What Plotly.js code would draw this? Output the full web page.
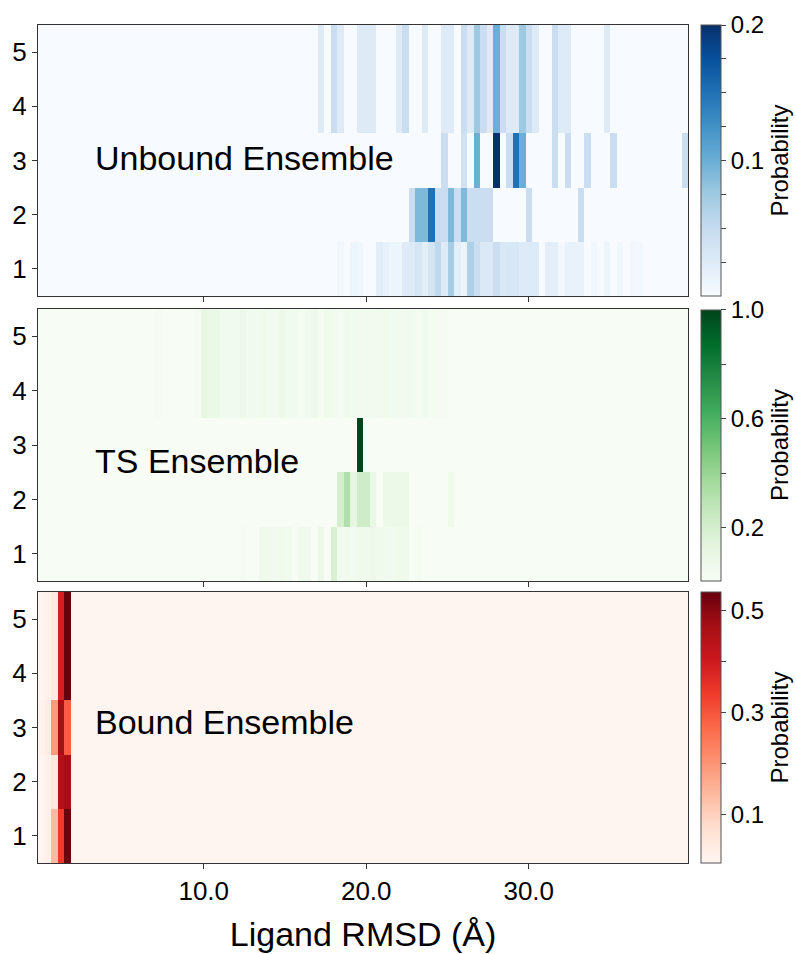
<!DOCTYPE html>
<html><head><meta charset="utf-8">
<script src="https://cdn.plot.ly/plotly-3.0.1.min.js"></script>
<style>body{margin:0;background:#fff}#chart{width:796px;height:954px}</style>
</head><body><div id="chart"></div>
<script>
// ---------- data ----------
const rowLabels = [1, 2, 3, 4, 5];
const binStart = 0;      // centre of first ligand-RMSD bin (Å)
const binWidth = 0.4;    // Å
const nBins = 100;
const xTickVals = [10, 20, 30];
const xTickText = ['10.0', '20.0', '30.0'];
const yTickVals = [1, 2, 3, 4, 5];

// Unbound ensemble (bin index -> probability)
const unbound1Bins = [46,48,49,52,53,54,55,56,57,58,59,60,61,62,63,64,65,66,67,68,69,70,71,72,73,74,75,76,78,79,80,81,82,83,85,87,89,91,92];
const unbound1Vals = [0.006,0.01,0.008,0.022,0.015,0.01,0.01,0.025,0.025,0.035,0.02,0.035,0.055,0.025,0.07,0.018,0.01,0.065,0.045,0.028,0.028,0.045,0.03,0.032,0.032,0.026,0.026,0.026,0.02,0.018,0.005,0.014,0.014,0.014,0.007,0.01,0.008,0.006,0.005];
const unbound2Bins = [57,58,59,60,61,62,63,64,65,66,67,68,69,75,83];
const unbound2Vals = [0.045,0.09,0.09,0.15,0.045,0.045,0.09,0.045,0.09,0.045,0.045,0.045,0.045,0.045,0.045];
const unbound3Bins = [62,65,67,70,72,73,74,79,81,84,88,99];
const unbound3Vals = [0.045,0.04,0.1,0.2,0.045,0.15,0.1,0.045,0.045,0.045,0.045,0.045];
const unbound4Bins = [43,45,46,49,50,51,55,56,59,62,63,65,66,67,68,69,70,71,72,73,74,75,76,79,80,81,87];
const unbound4Vals = [0.025,0.045,0.025,0.025,0.025,0.025,0.025,0.045,0.025,0.025,0.025,0.045,0.025,0.075,0.045,0.025,0.1,0.045,0.025,0.025,0.075,0.045,0.025,0.045,0.025,0.025,0.025];
const unbound5Bins = [43,45,46,49,50,51,55,56,59,62,63,65,66,67,68,69,70,71,72,73,74,75,76,79,80,81,87];
const unbound5Vals = [0.025,0.045,0.025,0.025,0.025,0.025,0.025,0.045,0.025,0.025,0.025,0.045,0.025,0.075,0.045,0.025,0.1,0.045,0.025,0.025,0.075,0.045,0.025,0.045,0.025,0.025,0.025];

// TS ensemble
const ts1Bins = [31,34,35,36,37,38,40,41,43,45,46,47,48,49,50,51,52,53,54,55,56,58];
const ts1Vals = [0.02,0.06,0.06,0.04,0.06,0.05,0.06,0.06,0.07,0.18,0.05,0.06,0.05,0.06,0.06,0.07,0.06,0.05,0.05,0.06,0.06,0.03];
const ts2Bins = [46,47,48,49,50,51,53,54,55,56,63];
const ts2Vals = [0.2,0.33,0.12,0.22,0.22,0.1,0.08,0.08,0.08,0.08,0.06];
const ts3Bins = [49];
const ts3Vals = [1.0];
const ts4Bins = [18,24,25,26,27,28,29,30,31,32,33,34,35,36,37,38,39,40,41,42,43,44,45,46,47,48,49,50,51,52,53,54,55,56,57,58,59,60,61,62];
const ts4Vals = [0.02,0.02,0.11,0.09,0.09,0.05,0.05,0.05,0.07,0.05,0.05,0.06,0.05,0.04,0.07,0.05,0.05,0.03,0.05,0.065,0.03,0.06,0.05,0.025,0.06,0.05,0.04,0.05,0.04,0.04,0.06,0.05,0.04,0.04,0.05,0.03,0.05,0.03,0.02,0.02];
const ts5Bins = ts4Bins;
const ts5Vals = ts4Vals;

// Bound ensemble
const bound1Bins = [0,1,2,3,4];
const bound1Vals = [0.008,0.02,0.14,0.34,0.53];
const bound2Bins = [0,1,2,3,4];
const bound2Vals = [0.008,0.02,0.05,0.45,0.47];
const bound3Bins = [0,1,2,3,4];
const bound3Vals = [0.015,0.03,0.19,0.47,0.29];
const bound4Bins = [0,1,2,3,4];
const bound4Vals = [0.01,0.02,0.04,0.39,0.535];
const bound5Bins = [0,1,2,3,4];
const bound5Vals = [0.01,0.02,0.04,0.39,0.535];

// ---------- helpers ----------
function buildRow(bins, vals) {
  const r = new Array(nBins).fill(0);
  bins.forEach((b, i) => { r[b] = vals[i]; });
  return r;
}
const zUnbound = [buildRow(unbound1Bins, unbound1Vals), buildRow(unbound2Bins, unbound2Vals), buildRow(unbound3Bins, unbound3Vals), buildRow(unbound4Bins, unbound4Vals), buildRow(unbound5Bins, unbound5Vals)];
const zTS = [buildRow(ts1Bins, ts1Vals), buildRow(ts2Bins, ts2Vals), buildRow(ts3Bins, ts3Vals), buildRow(ts4Bins, ts4Vals), buildRow(ts5Bins, ts5Vals)];
const zBound = [buildRow(bound1Bins, bound1Vals), buildRow(bound2Bins, bound2Vals), buildRow(bound3Bins, bound3Vals), buildRow(bound4Bins, bound4Vals), buildRow(bound5Bins, bound5Vals)];

const blues = [[0,'#f7fbff'],[0.125,'#deebf7'],[0.25,'#c6dbef'],[0.375,'#9ecae1'],[0.5,'#6baed6'],[0.625,'#4292c6'],[0.75,'#2171b5'],[0.875,'#08519c'],[1,'#08306b']];
const greens = [[0,'#f7fcf5'],[0.125,'#e5f5e0'],[0.25,'#c7e9c0'],[0.375,'#a1d99b'],[0.5,'#74c476'],[0.625,'#41ab5d'],[0.75,'#238b45'],[0.875,'#006d2c'],[1,'#00441b']];
const reds = [[0,'#fff5f0'],[0.125,'#fee0d2'],[0.25,'#fcbba1'],[0.375,'#fc9272'],[0.5,'#fb6a4a'],[0.625,'#ef3b2c'],[0.75,'#cb181d'],[0.875,'#a50f15'],[1,'#67000d']];

const FONT = '"Liberation Sans", Arial, Helvetica, sans-serif';
const domTop = [0.6766, 1], domMid = [0.3365, 0.6611], domBot = [0, 0.3234];

function cbar(dom, tv, tt) {
  return {
    x: 1.0195, xanchor: 'left', xpad: 0, ypad: 0,
    y: (dom[0] + dom[1]) / 2, yanchor: 'middle',
    len: 271, lenmode: 'pixels', thickness: 20,
    outlinewidth: 1, outlinecolor: '#555',
    ticks: 'outside', ticklen: 5, tickcolor: '#444', tickwidth: 1,
    tickvals: tv, ticktext: tt,
    tickfont: {family: FONT, size: 24, color: '#000'},
    title: {text: 'Probability', side: 'right', font: {family: FONT, size: 24, color: '#000'}}
  };
}

const traces = [
  {type: 'heatmap', z: zUnbound, x0: binStart, dx: binWidth, y: rowLabels, xaxis: 'x3', yaxis: 'y3',
   colorscale: blues, zmin: 0, zmax: 0.2, hoverinfo: 'skip',
   colorbar: cbar(domTop, [0.025,0.05,0.075,0.1,0.125,0.15,0.175,0.2], ['','','','0.1','','','','0.2'])},
  {type: 'heatmap', z: zTS, x0: binStart, dx: binWidth, y: rowLabels, xaxis: 'x2', yaxis: 'y2',
   colorscale: greens, zmin: 0.006, zmax: 1.0, hoverinfo: 'skip',
   colorbar: cbar(domMid, [0.2,0.4,0.6,0.8,1.0], ['0.2','','0.6','','1.0'])},
  {type: 'heatmap', z: zBound, x0: binStart, dx: binWidth, y: rowLabels, xaxis: 'x', yaxis: 'y',
   colorscale: reds, zmin: 0.006, zmax: 0.536, hoverinfo: 'skip',
   colorbar: cbar(domBot, [0.1,0.2,0.3,0.4,0.5], ['0.1','','0.3','','0.5'])}
];

function xax(anchor, showLabels) {
  const a = {
    anchor: anchor, domain: [0, 1], range: [-0.2, 39.8], autorange: false,
    tickvals: xTickVals, ticktext: xTickText, showticklabels: showLabels,
    ticks: 'outside', ticklen: 5, tickcolor: '#333', tickwidth: 1,
    showline: true, mirror: true, linecolor: '#333', linewidth: 1,
    showgrid: false, zeroline: false,
    tickfont: {family: FONT, size: 26, color: '#000'}
  };
  if (showLabels) {
    a.title = {text: 'Ligand RMSD (Å)', font: {family: FONT, size: 34, color: '#000'}, standoff: 16};
  }
  return a;
}
function yax(anchor, dom) {
  return {
    anchor: anchor, domain: dom, range: [0.5, 5.5], autorange: false,
    tickvals: yTickVals, ticks: 'outside', ticklen: 5, tickcolor: '#333', tickwidth: 1,
    showline: true, mirror: true, linecolor: '#333', linewidth: 1,
    showgrid: false, zeroline: false,
    tickfont: {family: FONT, size: 26, color: '#000'}
  };
}

const annFont = {family: FONT, size: 34, color: '#000'};
const layout = {
  width: 796, height: 954,
  margin: {l: 38, r: 108, t: 25, b: 91, autoexpand: false},
  paper_bgcolor: '#fff', plot_bgcolor: '#fff',
  font: {family: FONT, color: '#000'},
  showlegend: false,
  xaxis: xax('y', true), yaxis: yax('x', domBot),
  xaxis2: xax('y2', false), yaxis2: yax('x2', domMid),
  xaxis3: xax('y3', false), yaxis3: yax('x3', domTop),
  annotations: [
    {text: 'Unbound Ensemble', xref: 'paper', yref: 'y3', x: 0.084, y: 3.05, xanchor: 'left', yanchor: 'middle', showarrow: false, font: annFont},
    {text: 'TS Ensemble', xref: 'paper', yref: 'y2', x: 0.084, y: 2.7, xanchor: 'left', yanchor: 'middle', showarrow: false, font: annFont},
    {text: 'Bound Ensemble', xref: 'paper', yref: 'y', x: 0.084, y: 3.1, xanchor: 'left', yanchor: 'middle', showarrow: false, font: annFont}
  ]
};

Plotly.newPlot('chart', traces, layout, {staticPlot: true, displayModeBar: false});
</script>
</body></html>
